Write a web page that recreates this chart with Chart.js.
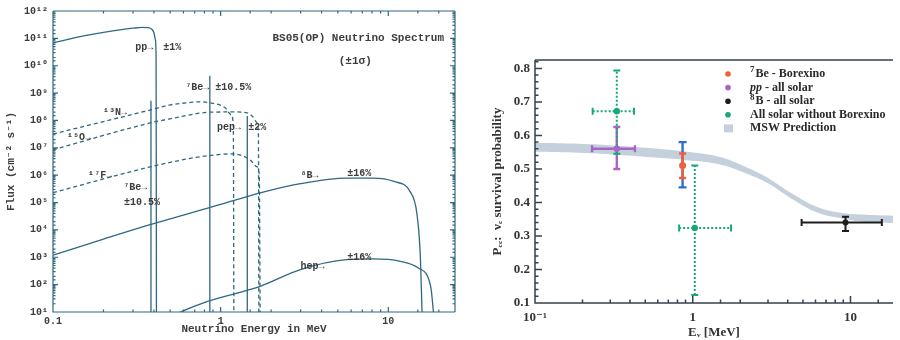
<!DOCTYPE html>
<html>
<head>
<meta charset="utf-8">
<script src="https://cdn.jsdelivr.net/npm/chart.js@4.4.1/dist/chart.umd.min.js"></script>
<style>
  body { margin: 0; background: #fff; }
  canvas { position: absolute; top: 0; }
  #spectrum { left: 0; }
  #survival { left: 470px; }
</style>
</head>
<body>
<canvas id="spectrum" width="460" height="340"></canvas>
<canvas id="survival" width="430" height="340"></canvas>
<script>
// ---------- left panel: BS05(OP) spectrum (E in MeV, flux) ----------
const ppE     = [0.1, 0.15, 0.2, 0.25, 0.3, 0.34, 0.37, 0.39, 0.40, 0.408, 0.412, 0.414];
const ppFlux  = [6.8e10, 1.2e11, 1.65e11, 2.05e11, 2.35e11, 2.5e11, 2.45e11, 2.1e11, 1.6e11, 9e10, 2e10, 10];
const n13E    = [0.1, 0.379, 0.5, 0.65, 0.755, 0.865, 1.064, 1.156, 1.19, 1.199];
const n13Flux = [3.2e7, 2.4e8, 3.7e8, 4.5e8, 4.8e8, 4.4e8, 2.9e8, 1.6e8, 6.9e7, 10];
const o15E    = [0.1, 0.379, 0.5, 0.865, 1.2, 1.44, 1.56, 1.65, 1.68, 1.69];
const o15Flux = [8.5e6, 8.1e7, 1.15e8, 2.0e8, 2.05e8, 1.9e8, 1.35e8, 8.1e7, 3e7, 10];
const f17E    = [0.1, 0.379, 0.755, 1.19, 1.5, 1.65, 1.70, 1.72];
const f17Flux = [2.3e5, 2.0e6, 4.7e6, 6.0e6, 3.6e6, 2.0e6, 1.0e6, 10];
const b8E     = [0.1, 0.2, 0.379, 1.0, 1.72, 2.99, 5.64, 8.1, 10.8, 13.5, 14.8, 15.5, 15.9];
const b8Flux  = [1.2e3, 4.6e3, 1.55e4, 8.5e4, 2.25e5, 4.9e5, 7.8e5, 7.8e5, 5.9e5, 2.5e5, 4.1e4, 1.4e3, 10];
const hepE    = [0.574, 0.828, 1.72, 2.99, 5.64, 8.1, 11.8, 15.1, 17.9, 18.6];
const hepFlux = [10, 24, 87, 355, 820, 870, 710, 405, 87, 10];
// line sources: 7Be (0.384, 0.862) and pep
const lineE    = [0.384, 0.862, 1.442];
const lineFlux = [5.2e8, 4.3e9, 1.45e8];

// text notes on the spectrum, anchored in data units
const specNotes = [
  ['pp→', 0.309, 4.5e10], ['±1%', 0.454, 4.5e10],
  ['⁷Be→', 0.614, 1.55e9], ['±10.5%', 0.927, 1.55e9],
  ['¹³N→', 0.199, 1.9e8],
  ['¹⁵O→', 0.121, 2.3e7],
  ['pep→', 0.952, 5.4e7], ['±2%', 1.46, 5.4e7],
  ['¹⁷F→', 0.162, 1.0e6],
  ['⁷Be→', 0.262, 3.5e5], ['±10.5%', 0.265, 1.0e5],
  ['⁸B→', 2.99, 9.5e5], ['±16%', 5.69, 1.2e6],
  ['hep→', 2.99, 460], ['±16%', 5.69, 980]
];
const specTitle = ['BS05(OP) Neutrino Spectrum', 6.62, 1.0e11];
const specSigma = ['(±1σ)', 6.35, 1.4e10];

// ---------- right panel: survival probability ----------
const mswE    = [0.1, 0.19, 0.33, 0.6, 0.92, 1.47, 2.17, 3.0, 4.2, 6.1, 8.7, 12.5, 18.6];
const mswHigh = [0.578, 0.575, 0.569, 0.560, 0.551, 0.536, 0.506, 0.473, 0.428, 0.387, 0.369, 0.363, 0.360];
const mswLow  = [0.551, 0.548, 0.542, 0.533, 0.526, 0.514, 0.487, 0.457, 0.412, 0.371, 0.353, 0.342, 0.339];

const beE = [0.862], beP = [0.51];
const beStatLo = [0.473], beStatHi = [0.546];
const beTotLo = [0.445], beTotHi = [0.58];

const ppSolE = [0.33], ppSolP = [0.56];
const ppSolPLo = [0.50], ppSolPHi = [0.625];
const ppSolELo = [0.23], ppSolEHi = [0.43];

const b8SolE = [9.3], b8SolP = [0.34];
const b8SolPLo = [0.315], b8SolPHi = [0.357];
const b8SolELo = [4.9], b8SolEHi = [15.8];

const noBxE = [0.33, 1.03], noBxP = [0.672, 0.324];
const noBxPLo = [0.545, 0.124], noBxPHi = [0.794, 0.51];
const noBxELo = [0.232, 0.82], noBxEHi = [0.424, 1.75];

// ---------- helpers ----------
const SUP = {'0':'⁰','1':'¹','2':'²','3':'³','4':'⁴','5':'⁵','6':'⁶','7':'⁷','8':'⁸','9':'⁹','-':'⁻'};
const sup = s => String(s).split('').map(c => SUP[c]).join('');
const isDecade = v => { const l = Math.log10(v); return Math.abs(l - Math.round(l)) < 1e-6; };
const pts = (xs, ys) => xs.map((x, i) => ({x, y: ys[i]}));

// box + inward tick marks
const frameTicks = {
  id: 'frameTicks',
  afterDraw(chart, args, o) {
    const {ctx, chartArea: a, scales} = chart;
    ctx.save();
    ctx.strokeStyle = o.color;
    ctx.lineWidth = o.width;
    ctx.beginPath();
    ctx.moveTo(a.left, a.top); ctx.lineTo(a.left, a.bottom); ctx.lineTo(a.right, a.bottom);
    ctx.moveTo(a.left, a.top); ctx.lineTo(a.right, a.top);
    if (o.right) { ctx.moveTo(a.right, a.top); ctx.lineTo(a.right, a.bottom); }
    scales.x.ticks.forEach(t => {
      const px = scales.x.getPixelForValue(t.value);
      if (px <= a.left + 1 || px >= a.right - 1) return;
      const len = o.majorX(t.value) ? o.long : o.short;
      ctx.moveTo(px, a.bottom); ctx.lineTo(px, a.bottom - len);
      if (o.top) { ctx.moveTo(px, a.top); ctx.lineTo(px, a.top + len); }
    });
    scales.y.ticks.forEach(t => {
      const py = scales.y.getPixelForValue(t.value);
      if (py <= a.top + 1 || py >= a.bottom - 1) return;
      const len = o.majorY(t.value) ? o.long : o.short;
      ctx.moveTo(a.left, py); ctx.lineTo(a.left + len, py);
      if (o.right) { ctx.moveTo(a.right, py); ctx.lineTo(a.right - len, py); }
    });
    ctx.stroke();
    ctx.restore();
  }
};

// ---------- left chart ----------
const lineCol = '#2f6881';
const textCol = '#3d3d3d';
const monoFont = '"Liberation Mono", "DejaVu Sans Mono", monospace';

function curve(xs, ys, dashed) {
  return {
    data: pts(xs, ys), showLine: true, pointRadius: 0,
    borderColor: lineCol, borderWidth: 1.3,
    borderDash: dashed ? [4, 3] : [],
    cubicInterpolationMode: 'monotone'
  };
}
const spikes = lineE.map((e, i) => ({
  data: [{x: e, y: 10}, {x: e, y: lineFlux[i]}], showLine: true, pointRadius: 0,
  borderColor: lineCol, borderWidth: 1.3
}));

const specText = {
  id: 'specText',
  afterDatasetsDraw(chart) {
    const {ctx, scales: {x, y}} = chart;
    ctx.save();
    ctx.fillStyle = textCol;
    ctx.textBaseline = 'middle';
    ctx.font = 'bold 10px ' + monoFont;
    ctx.textAlign = 'left';
    specNotes.forEach(([t, e, f]) => ctx.fillText(t, x.getPixelForValue(e), y.getPixelForValue(f)));
    ctx.font = 'bold 11px ' + monoFont;
    ctx.textAlign = 'center';
    [specTitle, specSigma].forEach(([t, e, f]) => ctx.fillText(t, x.getPixelForValue(e), y.getPixelForValue(f)));
    ctx.restore();
  }
};

new Chart(document.getElementById('spectrum'), {
  type: 'scatter',
  data: {
    datasets: [
      curve(ppE, ppFlux), curve(n13E, n13Flux, true), curve(o15E, o15Flux, true),
      curve(f17E, f17Flux, true), curve(b8E, b8Flux), curve(hepE, hepFlux), ...spikes
    ]
  },
  options: {
    responsive: false, animation: false,
    layout: { padding: { top: 11, right: 5, left: 0, bottom: 0 } },
    plugins: {
      legend: { display: false }, tooltip: { enabled: false },
      frameTicks: { color: lineCol, width: 1.2, long: 5, short: 2.5, top: true, right: true,
                    majorX: isDecade, majorY: isDecade }
    },
    scales: {
      x: {
        type: 'logarithmic', min: 0.1, max: 25,
        grid: { display: false, drawTicks: false }, border: { display: false },
        afterFit: s => { s.height = 28; },
        ticks: { autoSkip: false, maxRotation: 0, padding: 3, color: textCol,
                 font: { family: monoFont, size: 10, weight: 'bold' },
                 callback: v => isDecade(v) ? String(v) : '' },
        title: { display: true, text: 'Neutrino Energy in MeV', color: textCol,
                 font: { family: monoFont, size: 11, weight: 'bold' }, padding: { top: 0, bottom: 4 } }
      },
      y: {
        type: 'logarithmic', min: 10, max: 1e12,
        grid: { display: false, drawTicks: false }, border: { display: false },
        afterFit: s => { s.width = 53; },
        ticks: { autoSkip: false, padding: 5, color: textCol,
                 font: { family: monoFont, size: 10, weight: 'bold' },
                 callback: v => isDecade(v) ? '10' + sup(Math.round(Math.log10(v))) : '' },
        title: { display: true, text: 'Flux (cm⁻² s⁻¹)', color: textCol,
                 font: { family: monoFont, size: 11, weight: 'bold' }, padding: { top: 5, bottom: 0 } }
      }
    }
  },
  plugins: [frameTicks, specText]
});

// ---------- right chart ----------
const serif = '"Liberation Serif", "DejaVu Serif", serif';
const cRed = '#f0603c', cBlue = '#2f6fd0', cPurple = '#a866c4', cBlack = '#1e1e1e', cGreen = '#16a878', cBand = '#c4d0dc';

const errBars = [
  { E: beE, P: beP, PLo: beTotLo, PHi: beTotHi, color: cBlue, w: 2.4, cap: 4 },
  { E: beE, P: beP, PLo: beStatLo, PHi: beStatHi, color: cRed, w: 2.4, cap: 3.5 },
  { E: ppSolE, P: ppSolP, PLo: ppSolPLo, PHi: ppSolPHi, ELo: ppSolELo, EHi: ppSolEHi, color: cPurple, w: 2.4, cap: 3.5 },
  { E: b8SolE, P: b8SolP, PLo: b8SolPLo, PHi: b8SolPHi, ELo: b8SolELo, EHi: b8SolEHi, color: cBlack, w: 2, cap: 3.5 },
  { E: noBxE, P: noBxP, PLo: noBxPLo, PHi: noBxPHi, ELo: noBxELo, EHi: noBxEHi, color: cGreen, w: 2, cap: 3.5, dash: [2, 2] }
];

const errorBars = {
  id: 'errorBars',
  afterDatasetDraw(chart, args) {
    if (chart.data.datasets[args.index].label !== 'MSW low') return;
    const {ctx, scales: {x, y}} = chart;
    ctx.save();
    errBars.forEach(b => {
      ctx.strokeStyle = b.color;
      ctx.lineWidth = b.w;
      b.E.forEach((e, i) => {
        const px = x.getPixelForValue(e), py = y.getPixelForValue(b.P[i]);
        const segs = [], caps = [];
        if (b.PLo) {
          const y0 = y.getPixelForValue(b.PLo[i]), y1 = y.getPixelForValue(b.PHi[i]);
          segs.push([px, y0, px, y1]);
          caps.push([px - b.cap, y0, px + b.cap, y0], [px - b.cap, y1, px + b.cap, y1]);
        }
        if (b.ELo) {
          const x0 = x.getPixelForValue(b.ELo[i]), x1 = x.getPixelForValue(b.EHi[i]);
          segs.push([x0, py, x1, py]);
          caps.push([x0, py - b.cap, x0, py + b.cap], [x1, py - b.cap, x1, py + b.cap]);
        }
        ctx.setLineDash(b.dash || []);
        ctx.beginPath();
        segs.forEach(s => { ctx.moveTo(s[0], s[1]); ctx.lineTo(s[2], s[3]); });
        ctx.stroke();
        ctx.setLineDash([]);
        ctx.beginPath();
        caps.forEach(s => { ctx.moveTo(s[0], s[1]); ctx.lineTo(s[2], s[3]); });
        ctx.stroke();
      });
    });
    ctx.restore();
  }
};

const legendRows = [
  { color: cRed,    parts: [['7', 'sup'], ['Be - Borexino', '']] },
  { color: cPurple, parts: [['pp', 'italic'], [' - all solar', '']] },
  { color: cBlack,  parts: [['8', 'sup'], ['B - all solar', '']] },
  { color: cGreen,  parts: [['All solar without Borexino', '']] },
  { color: cBand,   parts: [['MSW Prediction', '']], box: true }
];

const probLegend = {
  id: 'probLegend',
  afterDraw(chart) {
    const {ctx, chartArea: a} = chart;
    const mx = a.left + 193, tx = a.left + 215;
    ctx.save();
    ctx.textBaseline = 'middle';
    ctx.textAlign = 'left';
    legendRows.forEach((r, i) => {
      const cy = a.top + 14 + i * 13.6;
      ctx.fillStyle = r.color;
      if (r.box) {
        ctx.fillRect(mx - 4, cy - 4, 9, 8);
      } else {
        ctx.beginPath(); ctx.arc(mx, cy, 2.8, 0, Math.PI * 2); ctx.fill();
      }
      ctx.fillStyle = '#2a2a2a';
      let cx = tx;
      r.parts.forEach(([t, st]) => {
        if (st === 'sup') {
          ctx.font = 'bold 9px ' + serif;
          ctx.fillText(t, cx, cy - 4);
        } else {
          ctx.font = (st === 'italic' ? 'italic bold ' : 'bold ') + '12px ' + serif;
          ctx.fillText(t, cx, cy);
        }
        cx += ctx.measureText(t).width + (st === 'sup' ? 1 : 0);
      });
    });
    ctx.restore();
  }
};

new Chart(document.getElementById('survival'), {
  type: 'scatter',
  data: {
    datasets: [
      { label: 'MSW high', data: pts(mswE, mswHigh), showLine: true, pointRadius: 0, borderWidth: 0,
        borderColor: cBand, fill: false, tension: 0.4, order: 10 },
      { label: 'MSW low', data: pts(mswE, mswLow), showLine: true, pointRadius: 0, borderWidth: 0,
        borderColor: cBand, backgroundColor: cBand, fill: '-1', tension: 0.4, order: 9 },
      { label: 'Be7', data: pts(beE, beP), pointRadius: 3.5, pointBackgroundColor: cRed, pointBorderWidth: 0, order: 1 },
      { label: 'pp', data: pts(ppSolE, ppSolP), pointRadius: 3.2, pointBackgroundColor: cPurple, pointBorderWidth: 0, order: 1 },
      { label: 'B8', data: pts(b8SolE, b8SolP), pointRadius: 3, pointBackgroundColor: cBlack, pointBorderWidth: 0, order: 1 },
      { label: 'noBx', data: pts(noBxE, noBxP), pointRadius: 3.2, pointBackgroundColor: cGreen, pointBorderWidth: 0, order: 1 }
    ]
  },
  options: {
    responsive: false, animation: false,
    layout: { padding: { top: 60, right: 0, left: 0, bottom: 0 } },
    plugins: {
      legend: { display: false }, tooltip: { enabled: false },
      frameTicks: { color: '#34414f', width: 1.5, long: 7, short: 3.5, top: false, right: false,
                    majorX: isDecade, majorY: v => Math.abs(v * 10 - Math.round(v * 10)) < 1e-6 }
    },
    scales: {
      x: {
        type: 'logarithmic', min: 0.1, max: 18.6,
        grid: { display: false, drawTicks: false }, border: { display: false },
        afterFit: s => { s.height = 37; },
        ticks: { autoSkip: false, maxRotation: 0, padding: 7, color: '#333',
                 font: { family: serif, size: 13, weight: 'bold' },
                 callback: v => !isDecade(v) ? '' : (Math.abs(v - 0.1) < 1e-9 ? '10' + sup(-1) : String(Math.round(v))) },
        title: { display: true, text: 'Eᵥ [MeV]', color: '#333',
                 font: { family: serif, size: 13, weight: 'bold' }, padding: { top: 0, bottom: 0 } }
      },
      y: {
        type: 'linear', min: 0.1, max: 0.825,
        grid: { display: false, drawTicks: false }, border: { display: false },
        afterFit: s => { s.width = 65; },
        ticks: { stepSize: 0.02, includeBounds: false, autoSkip: false, padding: 5, color: '#333',
                 font: { family: serif, size: 13, weight: 'bold' },
                 callback: v => Math.abs(v * 10 - Math.round(v * 10)) < 1e-6 ? v.toFixed(1) : '' },
        title: { display: true, text: 'Pₑₑ:  νₑ survival probability', color: '#333',
                 font: { family: serif, size: 13, weight: 'bold' }, padding: { top: 20, bottom: 0 } }
      }
    }
  },
  plugins: [frameTicks, errorBars, probLegend]
});
</script>
</body>
</html>
